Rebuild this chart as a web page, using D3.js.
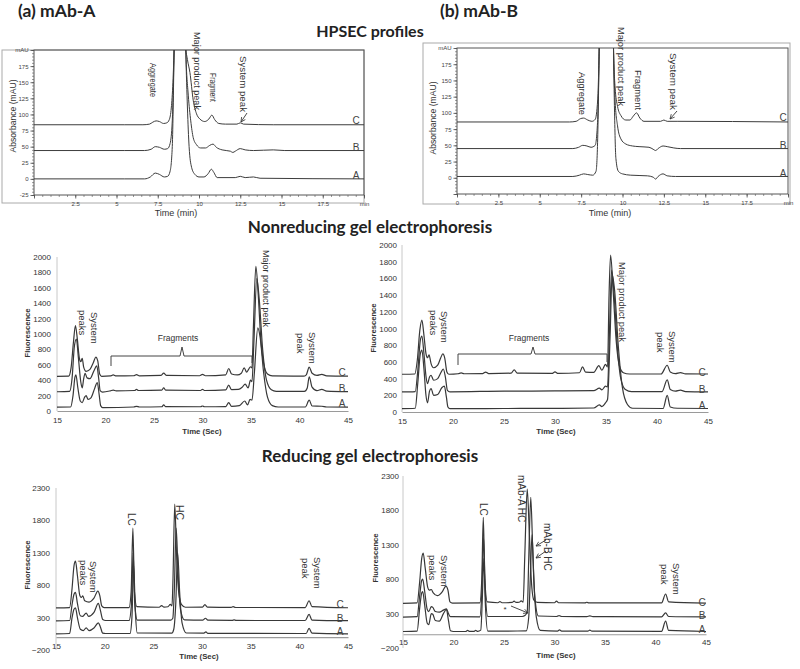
<!DOCTYPE html>
<html><head><meta charset="utf-8">
<script src="https://cdn.jsdelivr.net/npm/d3@7"></script>
<style>body{margin:0;background:#fff}</style>
</head><body>
<svg id="c" width="800" height="669" xmlns="http://www.w3.org/2000/svg"></svg>
<script>
// ===================== DATA =====================
const traceNames = ["C", "B", "A"];

// HPSEC ticks
const hpsecXTicks = [0, 2.5, 5, 7.5, 10, 12.5, 15, 17.5, 20];
const hpsecXLabelsA = ["", "2.5", "5", "7.5", "10", "12.5", "15", "17.5", "min"];
const hpsecXLabelsB = ["0", "2.5", "5", "7.5", "10", "12.5", "15", "17.5", "min"];
const hpsecYTicks = [-25, 0, 25, 50, 75, 100, 125, 150, 175, 200];
const hpsecYLabelsA = ["-25", "0", "25", "50", "75", "100", "125", "150", "175", "mAU"];
const hpsecYLabelsB = ["", "0", "25", "50", "75", "100", "125", "150", "175", "mAU"];

// gel ticks
const gelXTicks = [15, 20, 25, 30, 35, 40, 45];
const nrYTicks = [0, 200, 400, 600, 800, 1000, 1200, 1400, 1600, 1800, 2000];
const rYTicks = [-200, 300, 800, 1300, 1800, 2300];

// HPSEC mAb-A (time min, absorbance mAU)
const hpsecA_C = [[0,84],[5.5,84],[6.6,84],[7.0,85],[7.2,88],[7.4,90],[7.6,89],[7.85,86],[8.05,87],[8.2,92],[8.32,110],[8.42,150],[8.5,210],[8.7,500],[8.9,700],[9.05,450],[9.15,215],[9.3,185],[9.45,165],[9.65,122],[9.85,101],[10.05,93],[10.35,89],[10.6,93],[10.78,99],[10.95,92],[11.2,86],[11.6,85],[12.3,85],[12.5,87],[12.7,85],[14.5,84],[20,84]];
const hpsecA_B = [[0,44],[5.5,44],[6.7,44],[7.1,46],[7.35,50],[7.6,49],[7.9,46],[8.1,47],[8.25,55],[8.38,90],[8.5,210],[8.7,500],[8.9,700],[9.05,450],[9.2,200],[9.35,130],[9.5,90],[9.65,64],[9.85,53],[10.1,48],[10.4,48],[10.65,52],[10.85,54],[11.05,49],[11.4,45],[11.9,43],[12.05,41],[12.2,43],[12.5,47],[12.8,45],[13.3,44],[14.5,45],[15.2,44],[20,44]];
const hpsecA_A = [[0,0],[5.5,0],[6.7,0],[7.05,3],[7.35,9],[7.6,7],[7.9,3],[8.1,4],[8.25,12],[8.38,50],[8.5,210],[8.7,500],[8.9,700],[9.05,450],[9.2,200],[9.3,110],[9.4,50],[9.55,18],[9.75,7],[10.0,3],[10.3,3],[10.55,8],[10.75,15],[10.9,10],[11.1,2],[12.2,2],[12.5,4],[12.8,2],[13.3,3],[13.7,1],[20,0]];

// HPSEC mAb-B
const hpsecB_C = [[0,86],[6.8,86],[7.2,87],[7.45,91],[7.65,92],[7.9,89],[8.15,87],[8.35,90],[8.5,120],[8.6,210],[8.8,600],[9.05,800],[9.3,600],[9.45,210],[9.55,140],[9.7,110],[9.9,96],[10.2,89],[10.45,89],[10.65,95],[10.85,100],[11.05,92],[11.3,87],[12.3,87],[12.5,89],[12.7,87],[13.3,87],[20,86]];
const hpsecB_B = [[0,45],[7.0,45],[7.35,47],[7.6,50],[7.85,49],[8.1,47],[8.35,50],[8.5,90],[8.6,210],[8.8,600],[9.05,800],[9.3,600],[9.45,210],[9.55,120],[9.7,80],[9.9,60],[10.2,52],[10.6,49],[11.0,48],[11.6,47],[11.85,44],[12.0,42],[12.15,45],[12.45,49],[12.7,48],[13.1,46],[13.5,45],[20,45]];
const hpsecB_A = [[0,2],[7.0,2],[7.4,4],[7.65,6],[7.9,5],[8.2,4],[8.4,10],[8.5,60],[8.6,210],[8.8,600],[9.05,800],[9.3,600],[9.45,210],[9.52,100],[9.6,30],[9.75,10],[10.0,6],[10.5,4],[11.5,3],[11.85,1],[12.0,-2],[12.15,2],[12.45,6],[12.7,3],[13.2,2],[20,2]];

// Nonreducing gel, mAb-A (time sec, fluorescence)
const nrA_C = [[15,450],[16.2,452],[16.45,560],[16.7,900],[16.9,1110],[17.1,930],[17.3,690],[17.45,640],[17.6,685],[17.75,570],[18.0,515],[18.4,540],[18.75,630],[19.0,700],[19.2,650],[19.4,480],[19.6,450],[20.5,455],[20.8,468],[21.1,455],[22.9,458],[23.2,472],[23.5,456],[25.7,462],[26.0,492],[26.3,462],[29.7,458],[30.0,476],[30.3,458],[32.4,470],[32.7,552],[33.0,480],[33.6,468],[34.0,490],[34.3,560],[34.55,505],[34.75,540],[34.95,575],[35.1,560],[35.25,1100],[35.5,1880],[35.75,1500],[36.0,950],[36.3,620],[36.7,480],[37.2,455],[40.4,452],[40.7,470],[41.0,570],[41.3,490],[41.8,462],[42.3,475],[42.8,457],[45,452]];
const nrA_B = [[15,250],[16.3,255],[16.55,420],[16.8,850],[17.0,935],[17.2,700],[17.45,380],[17.6,300],[17.75,420],[17.9,490],[18.1,430],[18.4,420],[18.8,520],[19.1,585],[19.3,420],[19.45,265],[19.7,245],[20.5,262],[20.8,272],[21.1,262],[23.0,266],[23.2,280],[23.4,266],[25.8,270],[26.0,300],[26.2,270],[29.8,266],[30.0,282],[30.2,266],[32.4,275],[32.7,335],[33.0,278],[33.7,280],[34.1,310],[34.4,350],[34.7,300],[34.95,400],[35.1,380],[35.3,900],[35.6,1720],[35.85,1450],[36.2,800],[36.6,400],[37.1,275],[37.6,255],[40.5,255],[40.8,300],[41.0,445],[41.3,310],[41.8,265],[42.3,280],[42.8,258],[45,252]];
const nrA_A = [[15,50],[16.4,52],[16.65,200],[16.85,440],[16.95,470],[17.15,300],[17.4,130],[17.6,110],[17.85,180],[18.0,200],[18.2,150],[18.5,170],[18.9,300],[19.15,370],[19.35,210],[19.5,70],[19.7,45],[22.9,52],[23.2,60],[23.5,52],[25.8,55],[26.0,80],[26.2,56],[29.8,55],[30.0,65],[30.2,55],[32.4,58],[32.7,110],[33.0,60],[33.8,70],[34.35,130],[34.65,80],[34.9,150],[35.1,140],[35.35,500],[35.7,1080],[35.95,950],[36.3,500],[36.7,180],[37.2,70],[37.8,52],[40.6,52],[41.0,140],[41.3,65],[42.3,62],[42.8,52],[45,50]];

// Nonreducing gel, mAb-B
const nrB_C = [[15,452],[16.25,455],[16.5,620],[16.75,980],[16.95,1100],[17.15,920],[17.35,700],[17.5,650],[17.65,685],[17.85,580],[18.1,530],[18.5,560],[18.8,650],[19.0,695],[19.2,640],[19.4,480],[19.6,452],[20.5,458],[20.8,468],[21.1,458],[22.9,460],[23.2,478],[23.5,460],[25.7,465],[26.0,505],[26.3,465],[29.7,462],[30.0,480],[30.3,462],[32.4,470],[32.7,540],[33.0,478],[33.8,475],[34.3,555],[34.6,500],[34.95,570],[35.15,540],[35.3,1400],[35.45,1880],[35.7,1450],[36.0,850],[36.3,560],[36.7,470],[37.3,455],[40.4,455],[41.0,560],[41.3,480],[41.8,460],[42.3,472],[42.8,457],[45,455]];
const nrB_B = [[15,240],[16.3,245],[16.55,500],[16.8,860],[16.95,910],[17.15,700],[17.35,430],[17.5,340],[17.7,420],[17.85,440],[18.1,380],[18.5,400],[18.85,480],[19.05,515],[19.25,420],[19.45,260],[19.7,242],[25,250],[30,252],[33.8,255],[34.35,285],[34.6,265],[34.95,310],[35.15,300],[35.35,1000],[35.55,1700],[35.8,1400],[36.1,800],[36.45,400],[36.9,270],[37.5,245],[40.5,245],[41.0,385],[41.3,270],[41.8,250],[42.3,262],[42.8,245],[45,242]];
const nrB_A = [[15,40],[16.3,45],[16.55,350],[16.8,700],[16.95,740],[17.15,520],[17.35,200],[17.5,110],[17.7,250],[17.85,280],[18.1,200],[18.5,210],[18.9,290],[19.15,310],[19.35,180],[19.5,60],[19.7,40],[25,42],[30,44],[33.8,48],[34.35,85],[34.6,65],[34.95,110],[35.15,150],[35.4,900],[35.6,1650],[35.85,1450],[36.2,800],[36.6,300],[37.1,90],[37.6,45],[40.6,42],[41.0,200],[41.3,60],[42,45],[45,42]];

// Reducing gel, mAb-A
const rA_C = [[15,450],[16.4,455],[16.65,750],[16.85,1100],[17.0,1170],[17.2,950],[17.45,640],[17.6,610],[17.75,635],[17.95,560],[18.4,540],[18.9,600],[19.3,710],[19.5,640],[19.7,480],[19.95,455],[22.5,455],[22.72,700],[22.9,1680],[23.06,700],[23.3,470],[25.6,460],[25.85,485],[26.1,462],[26.5,468],[26.75,505],[26.92,480],[27.02,900],[27.2,2050],[27.38,1300],[27.6,700],[27.9,500],[28.3,460],[30.05,462],[30.3,500],[30.55,462],[33.0,458],[33.2,468],[33.45,456],[40.6,455],[41.0,560],[41.3,470],[45,452]];
const rA_B = [[15,250],[16.4,255],[16.65,500],[16.85,660],[17.0,690],[17.2,520],[17.5,330],[17.75,320],[18.1,370],[18.35,320],[18.9,380],[19.35,520],[19.55,420],[19.8,270],[20.1,255],[22.5,255],[22.75,500],[22.93,1300],[23.1,500],[23.35,262],[26.8,262],[27.0,290],[27.15,700],[27.35,1680],[27.55,950],[27.8,420],[28.2,265],[30.1,262],[30.35,290],[30.6,260],[33.1,258],[33.3,265],[33.5,256],[40.6,255],[41.0,350],[41.3,262],[45,252]];
const rA_A = [[15,50],[16.4,55],[16.65,300],[16.85,430],[17.0,450],[17.2,300],[17.5,120],[17.8,100],[18.1,140],[18.4,100],[18.9,140],[19.35,220],[19.55,160],[19.8,60],[20.1,55],[22.6,55],[22.8,300],[22.98,1100],[23.15,400],[23.35,62],[26.9,60],[27.1,120],[27.3,500],[27.5,1300],[27.7,700],[27.95,220],[28.4,62],[30.2,60],[30.4,80],[30.6,58],[40.7,55],[41.0,135],[41.3,60],[45,50]];

// Reducing gel, mAb-B
const rB_C = [[15,450],[16.4,455],[16.65,760],[16.85,1100],[17.0,1180],[17.2,960],[17.45,680],[17.6,640],[17.8,650],[18.0,600],[18.4,560],[18.9,620],[19.25,700],[19.45,640],[19.65,470],[19.9,452],[22.6,455],[22.8,800],[22.95,1700],[23.1,800],[23.35,470],[24.4,458],[24.6,475],[24.8,458],[25.8,462],[26.0,480],[26.2,462],[26.5,465],[26.7,485],[26.9,468],[27.05,1100],[27.3,2110],[27.5,1500],[27.7,800],[27.95,500],[28.3,462],[30.0,458],[30.2,482],[30.4,458],[33.0,455],[33.2,465],[33.4,455],[40.6,455],[41.0,585],[41.3,470],[45,452]];
const rB_B = [[15,250],[16.4,255],[16.65,560],[16.85,780],[16.95,800],[17.15,620],[17.4,360],[17.55,330],[17.8,400],[17.95,390],[18.2,330],[18.6,320],[19.0,350],[19.3,370],[19.5,300],[19.7,255],[22.6,252],[22.8,600],[22.98,1400],[23.15,600],[23.4,258],[26.8,258],[27.1,275],[27.3,330],[27.45,1100],[27.65,1990],[27.85,1200],[28.05,550],[28.4,265],[30.2,258],[30.45,272],[30.7,258],[33.2,256],[33.5,266],[33.8,256],[40.6,252],[41.0,310],[41.3,258],[45,252]];
const rB_A = [[15,40],[16.4,45],[16.65,380],[16.85,600],[16.95,620],[17.15,420],[17.4,160],[17.55,140],[17.8,300],[17.95,290],[18.2,200],[18.6,190],[19.0,300],[19.3,360],[19.5,200],[19.7,50],[20,40],[21.2,40],[21.4,55],[21.6,42],[22.0,42],[22.2,55],[22.4,42],[22.7,60],[22.85,500],[23.0,1100],[23.15,450],[23.4,45],[27.2,48],[27.45,250],[27.6,800],[27.78,1450],[27.95,800],[28.2,250],[28.6,55],[30.3,45],[30.5,62],[30.7,45],[33.3,45],[33.5,60],[33.7,45],[40.6,42],[41.0,190],[41.3,55],[45,40]];

// ===================== DRAWING =====================
const FONT = "'Liberation Sans', Arial, sans-serif";
const TFONT = "Lato, 'Open Sans', sans-serif";
const svg = d3.select("#c");

const defs = svg.append("defs");
defs.append("marker").attr("id","arr").attr("viewBox","0 0 8 8").attr("refX",7).attr("refY",4)
  .attr("markerWidth",6).attr("markerHeight",6).attr("orient","auto").attr("markerUnits","userSpaceOnUse")
  .append("path").attr("d","M1,1 L7,4 L1,7").attr("fill","none").attr("stroke","#333").attr("stroke-width",1);

function lineGen(x, y) {
  return d3.line().x(d => x(d[0])).y(d => y(d[1])).curve(d3.curveMonotoneX);
}

function vtext(g, cx, top, str, fs, len) {
  const t = g.append("text")
    .attr("transform", `translate(${cx},${top}) rotate(90)`)
    .attr("dy", "0.35em")
    .attr("font-family", FONT).attr("font-size", fs).attr("fill", "#333")
    .text(str);
  if (len) t.attr("textLength", len).attr("lengthAdjust", "spacingAndGlyphs");
  return t;
}

function htext(g, x, y, str, fs, opts = {}) {
  return g.append("text").attr("x", x).attr("y", y)
    .attr("font-family", opts.family || FONT).attr("font-size", fs)
    .attr("font-weight", opts.weight || "normal")
    .attr("text-anchor", opts.anchor || "middle")
    .attr("fill", opts.fill || "#333").text(str);
}

function arrow(g, x1, y1, x2, y2) {
  g.append("line").attr("x1",x1).attr("y1",y1).attr("x2",x2).attr("y2",y2)
    .attr("stroke","#333").attr("stroke-width",0.9).attr("marker-end","url(#arr)");
}

// ---------- HPSEC panel ----------
function hpsecPanel(cfg) {
  const g = svg.append("g");
  const [fx0, fy0, fx1, fy1] = cfg.frame;
  g.append("rect").attr("x", fx0).attr("y", fy0).attr("width", fx1 - fx0).attr("height", fy1 - fy0)
    .attr("fill", "none").attr("stroke", "#aaa").attr("stroke-width", 1);
  const [px0, py0, px1, py1] = cfg.plot;
  const x = d3.scaleLinear().domain([0, 20]).range([px0, px1]);
  const y = d3.scaleLinear().domain([-25, 200]).range([py1, py0]);

  const cid = "clip" + cfg.id;
  defs.append("clipPath").attr("id", cid).append("rect")
    .attr("x", px0).attr("y", py0).attr("width", px1 - px0).attr("height", py1 - py0);

  const minorX = d3.range(0, 20.01, 0.5);
  const minorY = d3.range(-25, 200.01, 5);
  g.append("g").attr("transform", `translate(0,${py1})`)
    .call(d3.axisBottom(x).tickValues(minorX).tickSize(2).tickFormat(""))
    .call(a => a.select(".domain").remove())
    .call(a => a.selectAll("line").attr("stroke", "#555").attr("stroke-width", 0.6));
  g.append("g").attr("transform", `translate(${px0},0)`)
    .call(d3.axisLeft(y).tickValues(minorY).tickSize(2).tickFormat(""))
    .call(a => a.select(".domain").remove())
    .call(a => a.selectAll("line").attr("stroke", "#555").attr("stroke-width", 0.6));
  g.append("g").attr("transform", `translate(0,${py1})`)
    .call(d3.axisBottom(x).tickValues(hpsecXTicks).tickSize(3.5).tickPadding(3)
      .tickFormat((d, i) => cfg.xLabels[i]))
    .call(a => a.select(".domain").remove())
    .call(a => a.selectAll("line").attr("stroke", "#444").attr("stroke-width", 0.8))
    .call(a => a.selectAll("text").attr("font-family", FONT).attr("font-size", 6).attr("fill", "#444"));
  g.append("g").attr("transform", `translate(${px0},0)`)
    .call(d3.axisLeft(y).tickValues(hpsecYTicks).tickSize(3.5).tickPadding(2)
      .tickFormat((d, i) => cfg.yLabels[i]))
    .call(a => a.select(".domain").remove())
    .call(a => a.selectAll("line").attr("stroke", "#444").attr("stroke-width", 0.8))
    .call(a => a.selectAll("text").attr("font-family", FONT).attr("font-size", 6).attr("fill", "#444"));

  g.append("rect").attr("x", px0).attr("y", py0).attr("width", px1 - px0).attr("height", py1 - py0)
    .attr("fill", "none").attr("stroke", "#555").attr("stroke-width", 1);

  const lg = lineGen(x, y);
  const tg = g.append("g").attr("clip-path", `url(#${cid})`);
  cfg.traces.forEach(tr => {
    tg.append("path").attr("d", lg(tr)).attr("fill", "none").attr("stroke", "#3c3c3c").attr("stroke-width", 1);
  });

  cfg.traceLabelPos.forEach((p, i) => htext(g, p[0], p[1], traceNames[i], 10, { fill: "#444" }));

  htext(g, cfg.xTitle[0], cfg.xTitle[1], "Time (min)", 9, { fill: "#333" });
  g.append("text").attr("transform", `translate(${cfg.yTitle[0]},${cfg.yTitle[1]}) rotate(-90)`)
    .attr("text-anchor", "middle").attr("dy", "0.35em")
    .attr("font-family", FONT).attr("font-size", 8.6).attr("fill", "#333").text("Absorbance (mAU)");

  cfg.ann.forEach(a => vtext(g, a[1], a[2], a[0], 9, a[3]));
  arrow(g, ...cfg.arrow);
}

hpsecPanel({
  id: "a", frame: [2, 50, 364, 203], plot: [34, 50, 364, 195],
  xLabels: hpsecXLabelsA, yLabels: hpsecYLabelsA,
  traces: [hpsecA_C, hpsecA_B, hpsecA_A],
  traceLabelPos: [[356, 124], [356, 151], [356, 179]],
  xTitle: [176, 216], yTitle: [13, 116],
  ann: [["Aggregate", 153, 63, 34], ["Major product peak", 197, 32, 78], ["Fragment", 213, 73, 29], ["System peak", 243, 56, 56]],
  arrow: [247, 113, 241, 122]
});
hpsecPanel({
  id: "b", frame: [423, 43, 790, 204], plot: [457, 48, 788, 194],
  xLabels: hpsecXLabelsB, yLabels: hpsecYLabelsB,
  traces: [hpsecB_C, hpsecB_B, hpsecB_A],
  traceLabelPos: [[783, 121], [783, 149], [783, 177]],
  xTitle: [610, 216], yTitle: [433, 118],
  ann: [["Aggregate", 582, 72, 43], ["Major product peak", 621, 27, 79], ["Fragment", 638, 70, 40], ["System peak", 673, 53, 57]],
  arrow: [677, 111, 670, 119]
});

// ---------- Gel panel ----------
function gelPanel(cfg) {
  const g = svg.append("g");
  const x = d3.scaleLinear().domain([15, 45]).range(cfg.xRange);
  const y = d3.scaleLinear().domain(cfg.yDomain).range(cfg.yRange);
  g.append("line").attr("x1", cfg.xRange[0]).attr("x2", cfg.xRange[0])
    .attr("y1", y(cfg.yDomain[0])).attr("y2", y(cfg.yDomain[1]))
    .attr("stroke", "#c8c8c8").attr("stroke-width", 1);
  g.append("g").attr("transform", `translate(${cfg.xRange[0]},0)`)
    .call(d3.axisLeft(y).tickValues(cfg.yTicks).tickSize(0).tickPadding(cfg.yPad).tickFormat(d3.format("d")))
    .call(a => a.select(".domain").remove())
    .call(a => a.selectAll("text").attr("font-family", FONT).attr("font-size", 8).attr("fill", "#333"));
  g.append("g").attr("transform", `translate(0,${y(0)})`)
    .call(d3.axisBottom(x).tickValues(gelXTicks).tickSize(0).tickPadding(cfg.xPad).tickFormat(d3.format("d")))
    .call(a => a.select(".domain").attr("stroke", "#9a9a9a").attr("stroke-width", 1.2))
    .call(a => a.selectAll("text").attr("font-family", FONT).attr("font-size", 8).attr("fill", "#333"));

  const lg = lineGen(x, y);
  cfg.traces.forEach(tr => {
    g.append("path").attr("d", lg(tr)).attr("fill", "none").attr("stroke", "#383838").attr("stroke-width", 1.2);
  });
  cfg.traceLabelPos.forEach((p, i) => htext(g, p[0], p[1], traceNames[i], 10, { fill: "#444" }));

  htext(g, cfg.xTitle[0], cfg.xTitle[1], "Time (Sec)", 7.8, { weight: "bold" });
  g.append("text").attr("transform", `translate(${cfg.yTitle[0]},${cfg.yTitle[1]}) rotate(-90)`)
    .attr("text-anchor", "middle").attr("dy", "0.35em")
    .attr("font-family", FONT).attr("font-size", 7.6).attr("font-weight", "bold").attr("fill", "#333").text("Fluorescence");

  cfg.ann.forEach(a => vtext(g, a[1], a[2], a[0], a[3] || 9.5, a[4]));
  if (cfg.bracket) {
    const b = cfg.bracket;
    g.append("path").attr("d", `M${b[0]},${b[3]} L${b[0]},${b[2]} L${b[5]-2},${b[2]} L${b[5]},${b[6]} L${b[5]+2},${b[2]} L${b[1]},${b[2]} L${b[1]},${b[4]}`)
      .attr("fill", "none").attr("stroke", "#444").attr("stroke-width", 1);
    htext(g, b[5] - 4, b[7], "Fragments", 8.5);
  }
  if (cfg.extra) cfg.extra(g);
}

gelPanel({
  xRange: [57, 348], yDomain: [0, 2000], yRange: [411, 257], yTicks: nrYTicks, yPad: 6, xPad: 6,
  traces: [nrA_C, nrA_B, nrA_A],
  traceLabelPos: [[342, 376], [342, 392], [342, 407]],
  xTitle: [202, 434], yTitle: [27, 333],
  ann: [["System", 94, 312, 9.5], ["peaks", 82, 310, 9.5], ["Major product peak", 266, 250, 9.5, 77],
        ["System", 312, 332, 9.5], ["peak", 300, 333, 9.5]],
  bracket: [111, 252, 356, 366, 363, 182, 347, 341]
});
gelPanel({
  xRange: [402, 708], yDomain: [0, 2000], yRange: [412, 245], yTicks: nrYTicks, yPad: 5, xPad: 6,
  traces: [nrB_C, nrB_B, nrB_A],
  traceLabelPos: [[702, 376], [702, 393], [702, 409]],
  xTitle: [556, 434], yTitle: [373, 328],
  ann: [["System", 444, 311, 9.5], ["peaks", 433, 310, 9.5], ["Major product peak", 622, 262, 9.5, 80],
        ["System", 672, 331, 9.5], ["peak", 660, 332, 9.5]],
  bracket: [458, 607, 354, 365, 362, 533, 347, 341]
});
gelPanel({
  xRange: [56, 348], yDomain: [-200, 2300], yRange: [650, 488], yTicks: rYTicks, yPad: 6, xPad: 6,
  traces: [rA_C, rA_B, rA_A],
  traceLabelPos: [[340, 608], [340, 622], [340, 635]],
  xTitle: [199, 659], yTitle: [27, 565],
  ann: [["System", 93, 561, 9.5], ["peaks", 83, 560, 9.5], ["LC", 131, 513, 10], ["HC", 180, 505, 10.5],
        ["System", 317, 557, 9.5], ["peak", 305, 558, 9.5]]
});
gelPanel({
  xRange: [403, 706], yDomain: [-200, 2300], yRange: [648, 476], yTicks: rYTicks, yPad: 4, xPad: 5,
  traces: [rB_C, rB_B, rB_A],
  traceLabelPos: [[702, 606], [702, 619], [702, 633]],
  xTitle: [556, 658], yTitle: [375, 558],
  ann: [["System", 444, 555, 9.5], ["peaks", 432, 555, 9.5], ["LC", 483, 503, 10],
        ["mAb-A HC", 521, 475, 10], ["mAb-B HC", 547, 523, 10],
        ["System", 676, 563, 9.5], ["peak", 664, 564, 9.5]],
  extra: g => {
    arrow(g, 546, 540, 536, 546);
    arrow(g, 546, 551, 536, 558);
    htext(g, 505, 612, "*", 8);
    arrow(g, 511, 606, 528, 613);
  }
});

// ---------- Titles ----------
htext(svg, 18, 17, "(a) mAb-A", 17.5, { family: TFONT, weight: "bold", anchor: "start", fill: "#222" });
htext(svg, 440, 17, "(b) mAb-B", 17.5, { family: TFONT, weight: "bold", anchor: "start", fill: "#222" });
htext(svg, 370, 37, "HPSEC profiles", 16, { family: TFONT, weight: "bold", fill: "#222" });
htext(svg, 370, 233, "Nonreducing gel electrophoresis", 17, { family: TFONT, weight: "bold", fill: "#222" });
htext(svg, 370, 462, "Reducing gel electrophoresis", 17, { family: TFONT, weight: "bold", fill: "#222" });
</script>
</body></html>
